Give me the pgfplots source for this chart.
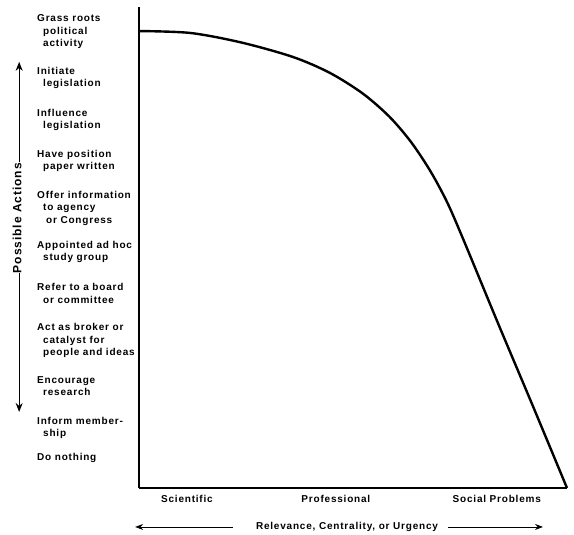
\documentclass[border=0pt]{standalone}
\usepackage{fontspec}
\usepackage{pgfplots}
\pgfplotsset{compat=1.18}
\usetikzlibrary{arrows.meta}
\setmainfont{Liberation Sans}
\newfontfamily\lab[LetterSpace=8]{Liberation Sans}
\newcommand{\ind}{\hspace*{6pt}}
\begin{document}
\begin{tikzpicture}
\useasboundingbox (-139pt,-47pt) rectangle (435pt,488pt);
\begin{axis}[
  at={(0pt,0pt)}, anchor=south west,
  scale only axis, width=428pt, height=481pt,
  xmin=0, xmax=100, ymin=0, ymax=100,
  axis x line=bottom, axis y line=left,
  axis line style={-, line width=1.1pt},
  major tick length=0pt,
  clip=false,
  xtick={11.2,46,83.6},
  xticklabels={Scientific, Professional, Social Problems},
  xticklabel style={font=\lab\bfseries\fontsize{10}{12}\selectfont, yshift=-4pt},
  ytick={94.8,85.2,76.5,68.0,58.2,49.1,40.5,30.6,21.2,12.5,6.2},
  yticklabels={
    {Grass roots\\\ind political\\\ind activity},
    {Initiate\\\ind legislation},
    {Influence\\\ind legislation},
    {Have position\\\ind paper written},
    {Offer information\\\ind to agency\\\ind\hspace*{3pt}or Congress},
    {Appointed ad hoc\\\ind study group},
    {Refer to a board\\\ind or committee},
    {Act as broker or\\\ind catalyst for\\\ind people and ideas},
    {Encourage\\\ind research},
    {Inform member-\\\ind ship},
    {Do nothing}},
  yticklabel style={font=\lab\bfseries\fontsize{10}{12.5}\selectfont, anchor=west, align=left, inner sep=0pt, xshift=-102pt},
  ylabel={Possible Actions},
  ylabel style={at={(axis description cs:-0.285,0.561)}, anchor=center, font=\lab\bfseries\fontsize{12}{14}\selectfont},
]
\addplot[black, line width=2.4pt, smooth, tension=0.5] coordinates {
  (0,95.0) (12.0,94.6) (24.0,92.6) (36.0,89.6) (44.6,86.3) (52.3,82.0)
  (58.5,77.2) (63.5,72.0) (68.0,66.0) (72.0,59.4) (76.0,51.2) (84.0,34.0) (92.0,17.1) (100,0)
};
\draw[line width=1.2pt, -{Stealth[length=9pt,width=7pt]}] (axis description cs:-0.280,0.678) -- (axis description cs:-0.280,0.886);
\draw[line width=1.2pt, -{Stealth[length=9pt,width=7pt]}] (axis description cs:-0.280,0.447) -- (axis description cs:-0.280,0.158);
\node[font=\lab\bfseries\fontsize{10}{12}\selectfont] at (axis description cs:0.486,-0.081) {Relevance, Centrality, or Urgency};
\draw[line width=0.9pt, -{Stealth[length=8pt,width=6pt]}] (axis description cs:0.220,-0.081) -- (axis description cs:-0.009,-0.081);
\draw[line width=0.9pt, -{Stealth[length=8pt,width=6pt]}] (axis description cs:0.722,-0.081) -- (axis description cs:0.944,-0.081);
\end{axis}
\end{tikzpicture}
\end{document}
